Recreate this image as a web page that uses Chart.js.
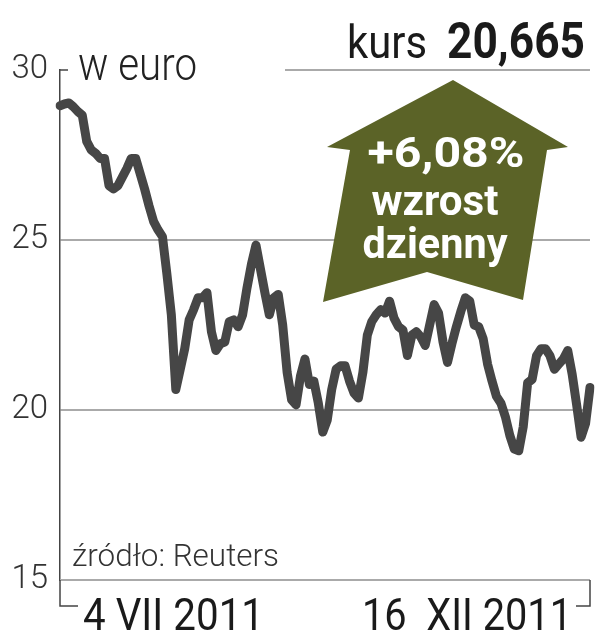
<!DOCTYPE html>
<html>
<head>
<meta charset="utf-8">
<script src="https://cdn.jsdelivr.net/npm/chart.js@4"></script>
<style>
  html, body { margin: 0; padding: 0; background: #fff; }
  #wrap { width: 605px; height: 640px; }
</style>
</head>
<body>
<div id="wrap"><canvas id="c" width="605" height="640"></canvas></div>
<script>
// kurs w euro, sesje od 4 VII 2011 do 16 XII 2011
const prices = [
  28.95, 29.0, 29.03, 28.92, 28.78, 28.67, 27.9, 27.65, 27.55, 27.4,
  27.4, 26.6, 26.5, 26.6, 26.85, 27.1, 27.4, 27.4, 26.95, 26.5,
  26.0, 25.55, 25.3, 25.1, 24.0, 22.8, 20.6, 21.2, 21.8, 22.65,
  22.95, 23.3, 23.3, 23.45, 22.3, 21.75, 21.95, 22.0, 22.6, 22.65,
  22.45, 22.8, 23.6, 24.3, 24.85, 24.15, 23.45, 22.8, 23.3, 23.4,
  22.5, 21.1, 20.3, 20.15, 21.0, 21.5, 20.75, 20.85, 20.2, 19.35,
  19.7, 20.6, 21.2, 21.3, 21.3, 20.85, 20.5, 20.35, 21.1, 22.2,
  22.6, 22.8, 22.95, 22.85, 23.2, 22.7, 22.45, 22.35, 21.6, 22.2,
  22.3, 22.15, 21.9, 22.5, 23.1, 22.85, 22.0, 21.4, 21.95, 22.45,
  22.9, 23.3, 23.2, 22.5, 22.45, 22.1, 21.35, 20.85, 20.4, 20.2,
  19.8, 19.25, 18.85, 18.8, 19.5, 20.8, 20.9, 21.6, 21.8, 21.8,
  21.6, 21.2, 21.35, 21.5, 21.75, 21.05, 20.15, 19.2, 19.6, 20.665
]
const yTicks = [15, 20, 25, 30]
const gridValues = [20, 25]
const dateLabels = ['4 VII 2011', '16  XII 2011']
const unitLabel = 'w euro'
const lastPrice = '20,665'
const dailyChange = '+6,08%'
const sourceNote = 'źródło: Reuters'

// kategorie: dni sesyjne (pn-pt) w okresie
const sessions = []
for (let d = new Date(2011, 6, 4); d <= new Date(2011, 11, 16); d.setDate(d.getDate() + 1)) {
  if (d.getDay() !== 0 && d.getDay() !== 6) sessions.push(d.toISOString().slice(0, 10))
}

function fitText(ctx, text, x, y, font, width, align, color) {
  ctx.save()
  ctx.font = font
  const s = width / ctx.measureText(text).width
  ctx.translate(x, y)
  ctx.scale(s, 1)
  ctx.textAlign = align
  ctx.textBaseline = 'alphabetic'
  ctx.fillStyle = color
  ctx.fillText(text, 0, 0)
  ctx.restore()
}

const decor = {
  id: 'decor',
  beforeDatasetsDraw(chart) {
    const { ctx, chartArea: a, scales: { y } } = chart
    const y30 = y.getPixelForValue(30)
    ctx.save()
    ctx.lineCap = 'butt'
    // linia 30 pod kursem
    ctx.strokeStyle = '#aaa'
    ctx.lineWidth = 2
    ctx.beginPath()
    ctx.moveTo(285, y30)
    ctx.lineTo(a.right, y30)
    ctx.stroke()
    // os dolna
    ctx.beginPath()
    ctx.moveTo(a.left, a.bottom)
    ctx.lineTo(a.right, a.bottom)
    ctx.stroke()
    // znaczek przy 30
    ctx.strokeStyle = '#444'
    ctx.lineWidth = 1.5
    ctx.beginPath()
    ctx.moveTo(a.left, y30)
    ctx.lineTo(a.left + 8, y30)
    ctx.stroke()
    // nawiasy dat
    ctx.beginPath()
    ctx.moveTo(a.left, a.bottom)
    ctx.lineTo(a.left, a.bottom + 26)
    ctx.lineTo(a.left + 18, a.bottom + 26)
    ctx.moveTo(a.right, a.bottom)
    ctx.lineTo(a.right, a.bottom + 26)
    ctx.lineTo(a.right - 14, a.bottom + 26)
    ctx.stroke()
    ctx.restore()
  },
  afterDatasetsDraw(chart) {
    const { ctx } = chart
    ctx.save()
    // strzalka
    ctx.fillStyle = '#5b6327'
    ctx.beginPath()
    ctx.moveTo(453, 80)
    ctx.lineTo(568, 147)
    ctx.lineTo(547, 150)
    ctx.lineTo(523, 300)
    ctx.lineTo(427, 272)
    ctx.lineTo(323, 302)
    ctx.lineTo(350, 150)
    ctx.lineTo(327, 147)
    ctx.closePath()
    ctx.fill()
    fitText(ctx, dailyChange, 446, 167, '700 42px Roboto', 157, 'center', '#fff')
    fitText(ctx, 'wzrost', 435, 215, '700 42px Roboto', 127, 'center', '#fff')
    fitText(ctx, 'dzienny', 435, 258, '700 42px Roboto', 145, 'center', '#fff')

    fitText(ctx, unitLabel, 78, 80, '300 46px Roboto', 119, 'left', '#222')
    fitText(ctx, 'kurs', 347, 58, '400 47px Roboto', 80, 'left', '#1a1a1a')
    fitText(ctx, lastPrice, 447, 58, '700 50px Roboto', 138, 'left', '#1a1a1a')
    fitText(ctx, sourceNote, 72, 566, '300 32px Roboto', 207, 'left', '#333')
    fitText(ctx, dateLabels[0], 83, 630, '400 45px Roboto', 181, 'left', '#1a1a1a')
    fitText(ctx, dateLabels[1], 362, 630, '400 45px Roboto', 210, 'left', '#1a1a1a')
    ctx.restore()
  }
}

new Chart(document.getElementById('c'), {
  type: 'line',
  data: {
    labels: sessions,
    datasets: [{
      data: prices,
      borderColor: '#464646',
      borderWidth: 9,
      borderJoinStyle: 'round',
      borderCapStyle: 'round',
      pointRadius: 0,
      tension: 0,
      fill: false,
    }],
  },
  options: {
    responsive: false,
    animation: false,
    events: [],
    layout: { padding: { top: 70, right: 15, bottom: 60, left: 0 } },
    plugins: { legend: { display: false }, tooltip: { enabled: false } },
    scales: {
      x: { display: false, offset: false },
      y: {
        min: 15,
        max: 30,
        afterBuildTicks: (s) => { s.ticks = yTicks.map((v) => ({ value: v })) },
        afterFit: (s) => { s.width = 60 },
        border: { display: true, color: '#444', width: 1.5 },
        grid: {
          drawTicks: false,
          lineWidth: 2,
          color: (c) => gridValues.includes(c.tick && c.tick.value) ? '#aaa' : 'rgba(0,0,0,0)',
        },
        ticks: {
          padding: 12,
          color: '#333',
          font: { family: 'Roboto', size: 33, weight: '300' },
        },
      },
    },
  },
  plugins: [decor],
})
</script>
</body>
</html>
